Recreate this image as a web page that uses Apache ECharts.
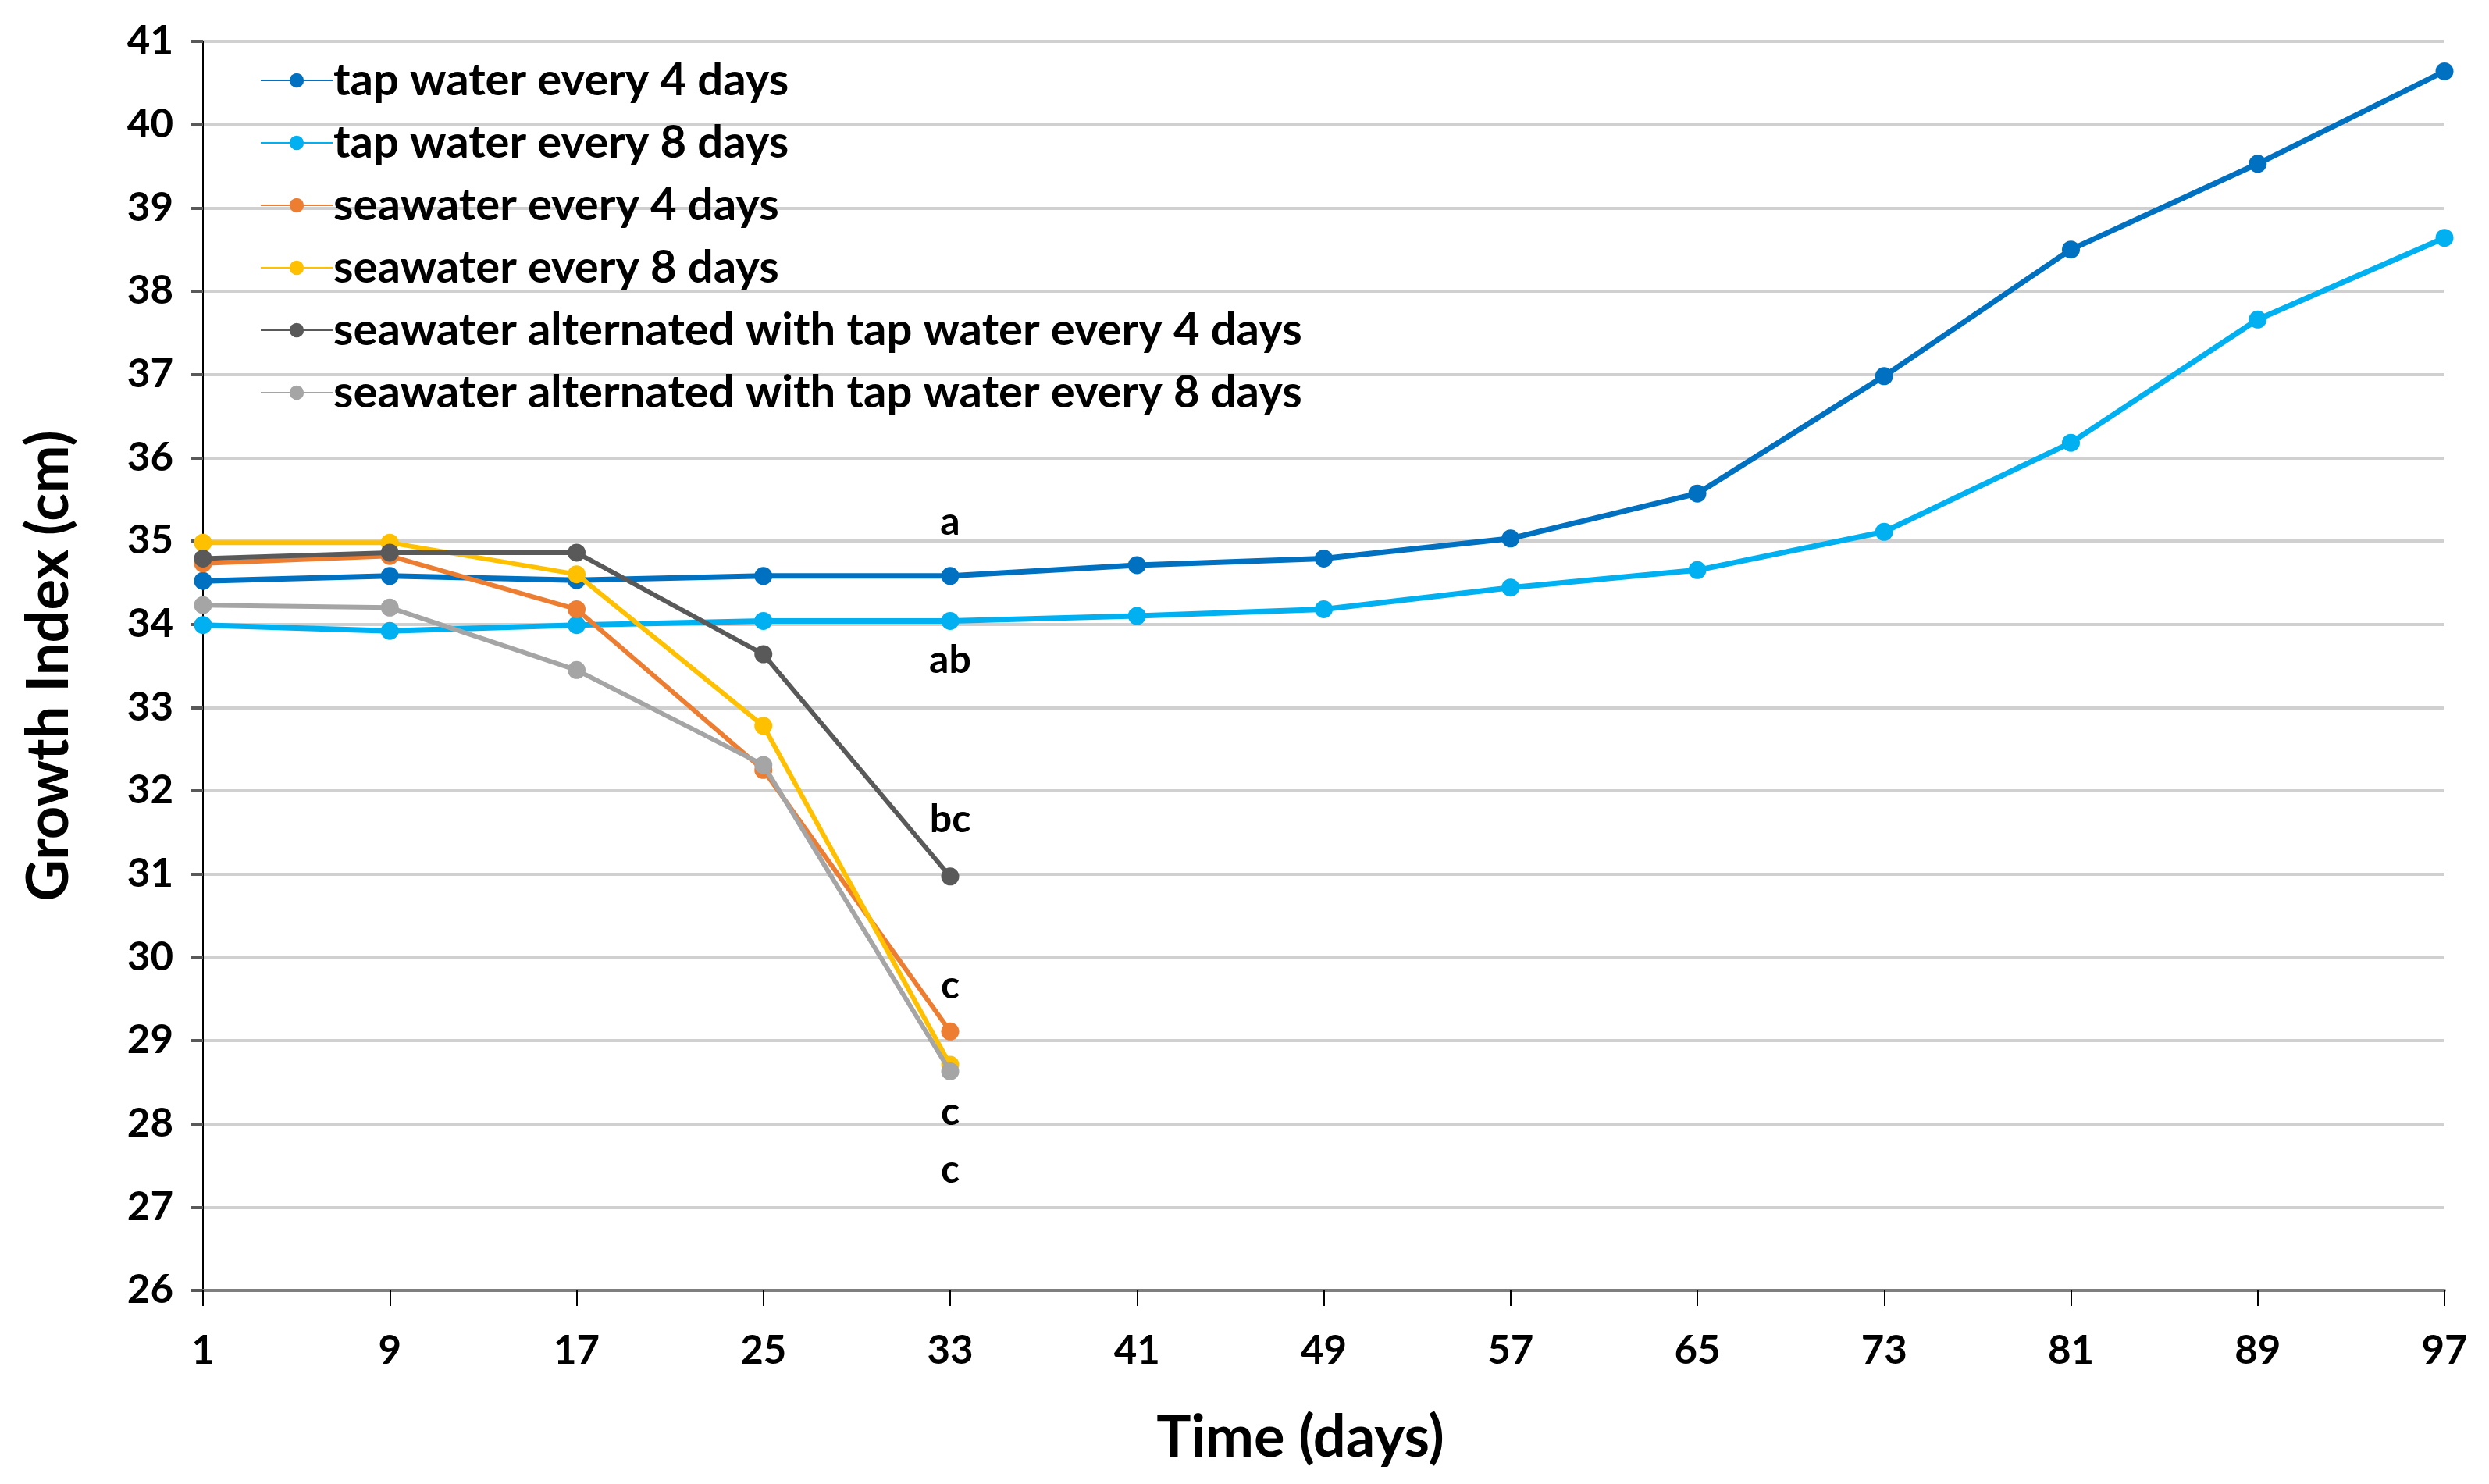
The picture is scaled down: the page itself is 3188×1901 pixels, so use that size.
<!DOCTYPE html>
<html>
<head>
<meta charset="utf-8">
<script src="https://cdn.jsdelivr.net/npm/echarts@6/dist/echarts.min.js"></script>
<style>
html,body{margin:0;padding:0;background:#fff;}
#main{width:3188px;height:1901px;}
</style>
</head>
<body>
<div id="main"></div>
<script>
const days = ['1','9','17','25','33','41','49','57','65','73','81','89','97'];
const yTicks = {min: 26, max: 41, step: 1};

const seriesNames = [
  'tap water every 4 days',
  'tap water every 8 days',
  'seawater every 4 days',
  'seawater every 8 days',
  'seawater alternated with tap water every 4 days',
  'seawater alternated with tap water every 8 days'
];
const tap4 = [34.52, 34.58, 34.53, 34.58, 34.58, 34.71, 34.79, 35.03, 35.57, 36.98, 38.50, 39.53, 40.64];
const tap8 = [33.99, 33.92, 33.99, 34.04, 34.04, 34.10, 34.18, 34.44, 34.65, 35.11, 36.18, 37.66, 38.64];
const sea4 = [34.73, 34.82, 34.18, 32.25, 29.11];
const sea8 = [34.98, 34.98, 34.60, 32.78, 28.71];
const alt4 = [34.79, 34.86, 34.86, 33.64, 30.97];
const alt8 = [34.23, 34.20, 33.45, 32.31, 28.63];

// significance letters at day 33
const letters = ['a', 'ab', 'c', 'c', 'bc', 'c'];

const colors = ['#0070C0', '#00B0F0', '#ED7D31', '#FFC000', '#595959', '#A5A5A5'];
const FONT = 'Lato, "Open Sans", sans-serif';

const allData = [tap4, tap8, sea4, sea8, alt4, alt8];
const letterPos = [
  {position: 'top', distance: 32},
  {position: 'bottom', distance: 14},
  {position: 'top', distance: 22},
  {position: 'bottom', distance: 24},
  {position: 'top', distance: 36},
  {position: 'bottom', distance: 90}
];
const lineWidths = [7, 7, 6, 6, 6, 6];

const series = allData.map((arr, i) => ({
  name: seriesNames[i],
  type: 'line',
  data: arr.map((v, j) => {
    if (j === 4) {
      return {
        value: v,
        label: {
          show: true,
          formatter: letters[i],
          position: letterPos[i].position,
          distance: letterPos[i].distance,
          color: '#000',
          fontFamily: FONT,
          fontWeight: 'bold',
          fontSize: 50
        }
      };
    }
    return v;
  }),
  symbol: 'circle',
  symbolSize: 23,
  showSymbol: true,
  lineStyle: {color: colors[i], width: lineWidths[i]},
  itemStyle: {color: colors[i]},
  z: 2 + i,
  animation: false
}));

const chart = echarts.init(document.getElementById('main'));
chart.setOption({
  backgroundColor: '#fff',
  animation: false,
  grid: {left: 260, right: 57, top: 53, bottom: 248, containLabel: false},
  legend: {
    orient: 'vertical',
    left: 328,
    top: 68,
    itemWidth: 92,
    itemHeight: 23,
    itemGap: 20,
    textStyle: {fontFamily: FONT, fontWeight: 'bold', fontSize: 58, color: '#000', lineHeight: 60, padding: [0, 0, 0, -4]},
    data: seriesNames
  },
  xAxis: {
    type: 'category',
    data: days,
    boundaryGap: false,
    name: 'Time (days)',
    nameLocation: 'middle',
    nameGap: 152,
    nameTextStyle: {fontFamily: FONT, fontWeight: 'bold', fontSize: 74, color: '#000', padding: [0, 60, 0, 0]},
    axisLine: {show: true, lineStyle: {color: '#7F7F7F', width: 4}},
    axisTick: {show: true, alignWithLabel: true, length: 20, lineStyle: {color: '#000', width: 2}},
    axisLabel: {fontFamily: FONT, fontWeight: 'bold', fontSize: 51, color: '#000', margin: 52},
    splitLine: {show: false}
  },
  yAxis: {
    type: 'value',
    min: yTicks.min,
    max: yTicks.max,
    interval: yTicks.step,
    name: 'Growth Index (cm)',
    nameLocation: 'middle',
    nameGap: 160,
    nameRotate: 90,
    nameTextStyle: {fontFamily: FONT, fontWeight: 'bold', fontSize: 74, color: '#000'},
    axisLine: {show: true, lineStyle: {color: '#000', width: 2}},
    axisTick: {show: true, length: 16, lineStyle: {color: '#595959', width: 4}},
    axisLabel: {fontFamily: FONT, fontWeight: 'bold', fontSize: 51, color: '#000', margin: 38},
    splitLine: {show: true, lineStyle: {color: '#D0D0D0', width: 4}}
  },
  series: series
});
</script>
</body>
</html>
